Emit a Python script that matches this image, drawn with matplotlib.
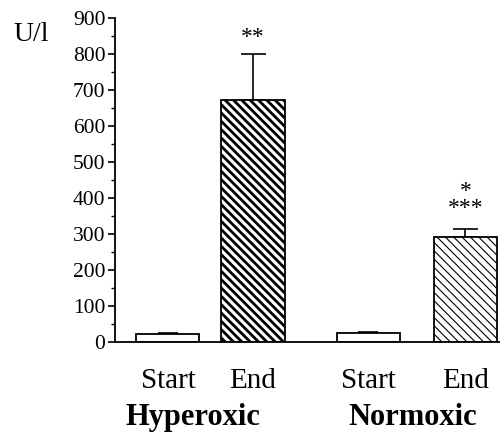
import matplotlib.pyplot as plt
import numpy as np

plt.rcParams['font.family'] = ['Liberation Serif', 'DejaVu Serif']

labels = ['Start', 'End', 'Start', 'End']
values = [22, 672, 25, 292]
errors = [4, 128, 3, 22]
stars = ['', '**', '', '*\n***']
groups = ['Hyperoxic', 'Normoxic']

pos = np.array([0.84, 2.19, 4.02, 5.56])

fig = plt.figure(figsize=(5, 4.34), dpi=100)
ax = fig.add_axes([0.23, 0.212, 0.77, 0.7465])

hatches = ['', '\\\\\\\\', '', '\\\\\\\\']
hlw = [1.0, 2.0, 1.0, 0.8]
for i in range(4):
    b = ax.bar(pos[i], values[i], width=1.0, color='white', edgecolor='black',
               linewidth=1.3, hatch=hatches[i], zorder=2)
    for p in b:
        if hasattr(p, 'set_hatch_linewidth'):
            p.set_hatch_linewidth(hlw[i])
    ax.errorbar(pos[i], values[i], yerr=[[0], [errors[i]]], fmt='none',
                ecolor='black', elinewidth=1.2, capsize=9 if i % 2 else 7,
                capthick=1.2, zorder=1)

ax.text(pos[1], 845, stars[1], ha='center', va='center', fontsize=17)
ax.text(pos[3], 395, stars[3], ha='center', va='center', fontsize=17,
        linespacing=0.75)

ax.set_ylim(0, 900)
ax.set_xlim(0, 6.11)
ax.set_yticks(np.arange(0, 901, 100))
ax.set_yticks(np.arange(50, 900, 100), minor=True)
ax.tick_params(axis='y', which='major', length=5, width=1.2, labelsize=15.5, pad=2)
ax.tick_params(axis='y', which='minor', length=3, width=1.0)
ax.set_xticks(pos)
ax.set_xticklabels(labels, fontsize=21)
ax.tick_params(axis='x', length=0, pad=19)

for s in ['top', 'right']:
    ax.spines[s].set_visible(False)
ax.spines['left'].set_linewidth(1.3)
ax.spines['bottom'].set_linewidth(1.3)

fig.text(0.026, 0.92, 'U/l', fontsize=20, va='center', ha='left')
fig.text(0.385, 0.037, groups[0], fontsize=22, fontweight='bold', ha='center', va='center')
fig.text(0.826, 0.037, groups[1], fontsize=22, fontweight='bold', ha='center', va='center')

fig.savefig('out.png', dpi=100)
